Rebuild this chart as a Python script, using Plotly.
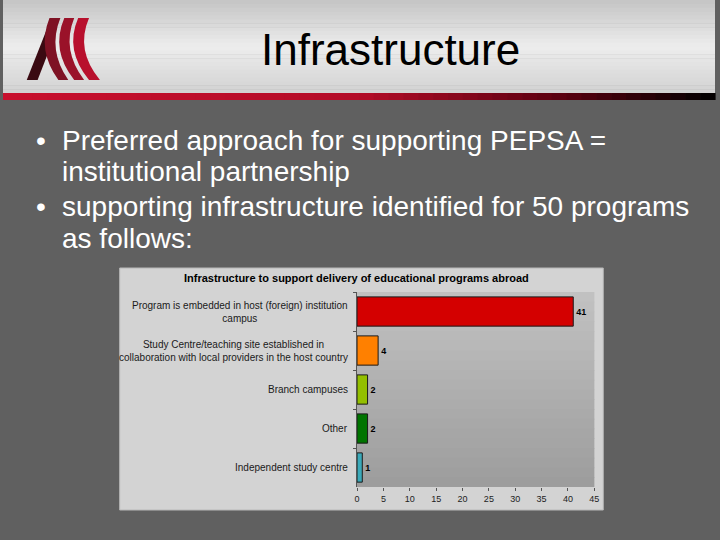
import plotly.graph_objects as go

# ---------------- data ----------------
categories = [
    "Program is embedded in host (foreign) institution campus",
    "Study Centre/teaching site established in collaboration with local providers in the host country",
    "Branch campuses",
    "Other",
    "Independent study centre",
]
category_labels = [
    "Program is embedded in host (foreign) institution<br>campus",
    "Study Centre/teaching site established in<br>collaboration with local providers in the host country",
    "Branch campuses",
    "Other",
    "Independent study centre",
]
values = [41, 4, 2, 2, 1]
bar_colors = ["#d40000", "#ff8000", "#93bf00", "#007400", "#3aa9b9"]
x_ticks = [0, 5, 10, 15, 20, 25, 30, 35, 40, 45]

slide_title = "Infrastructure"
chart_title = "Infrastructure to support delivery of educational programs abroad"
bullet_lines = [
    ("•", "Preferred approach for supporting PEPSA ="),
    ("", "institutional partnership"),
    ("•", "supporting infrastructure identified for 50 programs"),
    ("", "as follows:"),
]
bullet_line_y = [141, 171, 207, 238]

W, H = 720, 540
FONT = "Liberation Sans, Arial, sans-serif"


def px(x):
    return x / W


def py(y):
    return 1 - y / H


def hexrgb(c):
    c = c.lstrip("#")
    return tuple(int(c[i:i + 2], 16) for i in (0, 2, 4))


def lerp_col(stops, t):
    for (t0, c0), (t1, c1) in zip(stops, stops[1:]):
        if t0 <= t <= t1:
            f = 0 if t1 == t0 else (t - t0) / (t1 - t0)
            a, b = hexrgb(c0), hexrgb(c1)
            return "rgb(%d,%d,%d)" % tuple(round(a[i] + (b[i] - a[i]) * f) for i in range(3))
    return stops[-1][1]


shapes = []

# header background gradient
hdr_stops = [(0, "#c4c4c4"), (0.5, "#ededed"), (1, "#d2d2d2")]
n = 24
for i in range(n):
    y0 = 93 * i / n
    y1 = 93 * (i + 1) / n + 0.6
    shapes.append(dict(type="rect", xref="paper", yref="paper", x0=0, x1=1,
                       y0=py(y1), y1=py(y0), line_width=0,
                       fillcolor=lerp_col(hdr_stops, (i + 0.5) / n), layer="below"))

# red -> black line
line_stops = [(0, "#c8102e"), (0.5, "#b40c28"), (0.8, "#55000f"), (1, "#000000")]
n = 48
for i in range(n):
    x0 = W * i / n
    x1 = W * (i + 1) / n + 0.6
    shapes.append(dict(type="rect", xref="paper", yref="paper", x0=px(x0), x1=px(x1),
                       y0=py(100), y1=py(93), line_width=0,
                       fillcolor=lerp_col(line_stops, (i + 0.5) / n), layer="below"))


def path(pts):
    s = ""
    for cmd, coords in pts:
        s += cmd
        for (x, y) in coords:
            s += " %.5f,%.5f" % (px(x), py(y))
        s += " "
    return s + "Z"


logo = [
    ([("M", [(24, 80)]), ("L", [(44, 30)]), ("L", [(53, 34)]), ("L", [(35, 80)])], "#3a0a12"),
    ([("M", [(47, 18)]), ("Q", [(34, 50), (56, 80)]), ("L", [(66, 80)]),
      ("Q", [(45, 50), (58, 18)])], "#7e1224"),
    ([("M", [(62, 18)]), ("Q", [(48, 50), (72, 80)]), ("L", [(82, 80)]),
      ("Q", [(59, 50), (72, 18)])], "#9a1229"),
    ([("M", [(76, 18)]), ("Q", [(62, 50), (87, 80)]), ("L", [(98, 80)]),
      ("Q", [(73, 50), (87, 18)])], "#b8102d"),
]
for p, col in logo:
    shapes.append(dict(type="path", xref="paper", yref="paper", path=path(p),
                       fillcolor=col, line_width=0, layer="below"))

# chart box
shapes.append(dict(type="rect", xref="paper", yref="paper", x0=px(118), x1=px(607),
                   y0=py(510), y1=py(268), fillcolor="#d3d3d3",
                   line=dict(color="#b8b8b8", width=1), layer="below"))

# plot area gradient
pa_stops = [(0, "#c2c2c2"), (1, "#9c9c9c")]
n = 20
for i in range(n):
    y1 = 1 - i / n
    y0 = 1 - (i + 1) / n - 0.004
    shapes.append(dict(type="rect", xref="x domain", yref="y domain", x0=0, x1=1,
                       y0=max(y0, 0), y1=y1, line_width=0,
                       fillcolor=lerp_col(pa_stops, (i + 0.5) / n), layer="below"))

fig = go.Figure()
fig.add_trace(go.Bar(
    x=values, y=categories, orientation="h",
    marker=dict(color=bar_colors, line=dict(color="#1a1a1a", width=1)),
    text=values, texttemplate="<b>%{x}</b>", textposition="outside",
    textfont=dict(family=FONT, size=9, color="#000000"),
    cliponaxis=False, showlegend=False, hoverinfo="skip",
))

annotations = []
annotations.append(dict(text=slide_title, xref="paper", yref="paper", x=px(392), y=py(50),
                        xanchor="center", yanchor="middle", showarrow=False,
                        font=dict(family=FONT, size=44, color="#000000")))
for (b, t), yy in zip(bullet_lines, bullet_line_y):
    if b:
        annotations.append(dict(text=b, xref="paper", yref="paper", x=px(31), y=py(yy),
                                xanchor="left", yanchor="middle", showarrow=False,
                                font=dict(family=FONT, size=28, color="#ffffff")))
    annotations.append(dict(text=t, xref="paper", yref="paper", x=px(58), y=py(yy),
                            xanchor="left", yanchor="middle", showarrow=False,
                            font=dict(family=FONT, size=28, color="#ffffff")))
annotations.append(dict(text="<b>" + chart_title + "</b>", xref="paper", yref="paper",
                        x=px(357), y=py(278), xanchor="center", yanchor="middle",
                        showarrow=False, font=dict(family=FONT, size=11, color="#000000")))
for cat, lab in zip(categories, category_labels):
    annotations.append(dict(text=lab, xref="paper", yref="y", x=px(351), y=cat,
                            xanchor="right", yanchor="middle", align="center",
                            showarrow=False,
                            font=dict(family=FONT, size=10, color="#1a1a1a")))

fig.update_layout(
    width=W, height=H, autosize=False,
    margin=dict(l=0, r=0, t=0, b=0),
    paper_bgcolor="#606060", plot_bgcolor="rgba(0,0,0,0)",
    bargap=0.25,
    shapes=shapes, annotations=annotations,
    xaxis=dict(domain=[px(358), px(598)], range=[0, 45], tickvals=x_ticks,
               ticktext=[str(v) for v in x_ticks], showgrid=False, zeroline=False,
               showline=False, ticks="outside", ticklen=3, tickcolor="#555555",
               tickfont=dict(family=FONT, size=9, color="#222222"), fixedrange=True),
    yaxis=dict(domain=[py(487), py(292)], autorange="reversed", showgrid=False,
               showline=True, linecolor="#555555", linewidth=1,
               ticks="outside", tickson="boundaries", ticklen=3, tickcolor="#555555",
               showticklabels=False, fixedrange=True),
    font=dict(family=FONT),
)

fig.write_html(
    "out.html",
    config={"displayModeBar": False},
    post_script="document.body.style.margin='0';document.body.style.padding='0';"
                "document.body.style.overflow='hidden';document.body.style.background='#606060';",
)
